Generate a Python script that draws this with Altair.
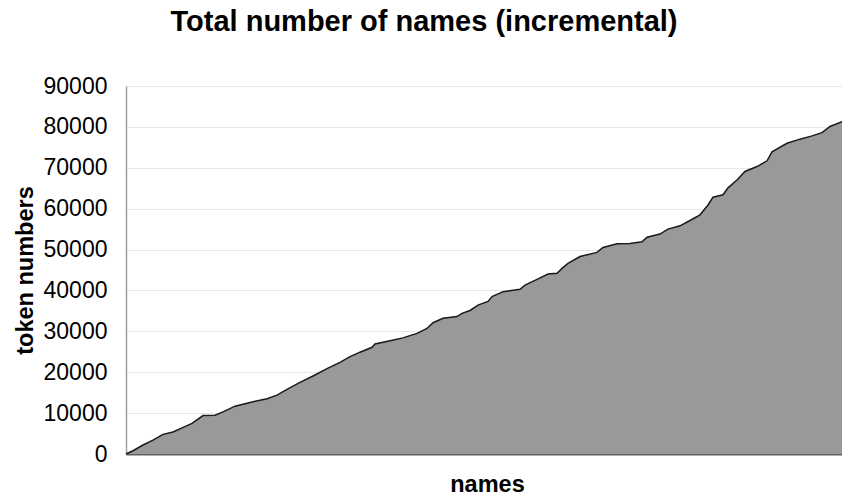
import altair as alt
import pandas as pd

# name index (position along the x axis) and cumulative token numbers
names = [0, 7, 17, 27, 37, 47, 56, 66, 77, 89, 97, 109, 127, 141, 151, 161, 174,
         188, 202, 214, 224, 234, 246, 249, 264, 277, 291, 301, 307, 317, 331,
         336, 344, 352, 362, 366, 377, 394, 399, 411, 422, 431, 436, 442, 454,
         471, 477, 491, 504, 516, 521, 534, 542, 554, 564, 574, 582, 587, 597,
         602, 611, 619, 631, 641, 646, 661, 674, 686, 696, 704, 716]
tokens = [0, 800, 2200, 3400, 4800, 5400, 6400, 7500, 9400, 9500, 10300, 11700,
          12800, 13500, 14400, 15800, 17500, 19200, 21000, 22400, 23800, 24900,
          26100, 26900, 27700, 28400, 29500, 30700, 32100, 33200, 33600, 34400,
          35100, 36400, 37300, 38500, 39700, 40300, 41300, 42700, 44000, 44200,
          45400, 46600, 48300, 49300, 50500, 51400, 51500, 51900, 53000, 53800,
          55000, 55800, 57100, 58500, 60900, 62800, 63400, 65100, 67000, 69100,
          70300, 71700, 73900, 76000, 77000, 77800, 78600, 80100, 81300]
y_ticks = [0, 10000, 20000, 30000, 40000, 50000, 60000, 70000, 80000, 90000]

df = pd.DataFrame({"names": names, "tokens": tokens})

FONT = "Liberation Sans"

chart = alt.Chart(df).mark_area(
    color="#999999",
    opacity=1,
    line=alt.OverlayMarkDef(color="#1a1a1a", strokeWidth=1.5),
    interpolate="linear",
).encode(
    x=alt.X("names:Q",
            scale=alt.Scale(domain=[0, 716], nice=False, zero=False),
            axis=alt.Axis(title="names", labels=False, ticks=False, grid=False,
                          domainColor="#606060", domainWidth=2,
                          titleFont=FONT, titleFontSize=23.5, titleFontWeight="bold",
                          titleColor="black", titleBaseline="alphabetic",
                          titleX=361, titleY=37, titleAnchor="middle")),
    y=alt.Y("tokens:Q",
            scale=alt.Scale(domain=[0, 90000], nice=False),
            axis=alt.Axis(title="token numbers", values=y_ticks, format="d",
                          ticks=False, labelPadding=19, labelFont=FONT,
                          labelFontSize=23, labelColor="black",
                          domainColor="#a0a0a0", domainWidth=1.5,
                          grid=True, gridColor="#e6e6e6", gridWidth=1,
                          titleFont=FONT, titleFontSize=23.5, titleFontWeight="bold",
                          titleColor="black", titleBaseline="alphabetic",
                          titleAngle=270, titleX=-94, titleY=184,
                          titleAnchor="middle")),
).properties(
    width=716,
    height=368,
    title=alt.TitleParams("Total number of names (incremental)",
                          font=FONT, fontSize=29, fontWeight="bold",
                          color="black", anchor="middle", dx=-60,
                          baseline="alphabetic", offset=15),
    autosize=alt.AutoSizeParams(type="none"),
    padding={"left": 126, "top": 86, "right": 0, "bottom": 49},
).configure_view(stroke=None).configure(background="white")

chart.save("out.html", embed_options={"renderer": "svg", "actions": False})
